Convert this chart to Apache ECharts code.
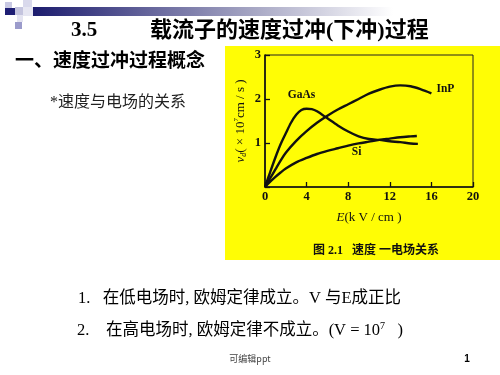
<!DOCTYPE html>
<html><head><meta charset="utf-8">
<script src="https://cdn.jsdelivr.net/npm/echarts@6/dist/echarts.min.js"></script>
<style>html,body{margin:0;padding:0;background:#fff;}#c{width:500px;height:375px;}</style>
</head><body><div id="c"></div>
<script>
// ---- data ----
const xTicks = [0, 4, 8, 12, 16, 20];
const yTicks = [0, 1, 2, 3];
const gaasE = [0, 0.5, 1, 1.5, 2, 2.5, 3, 3.5, 4, 4.5, 5, 6, 7, 8, 9, 10, 11, 12, 13, 14, 14.7];
const gaasV = [0, 0.34, 0.67, 0.97, 1.22, 1.46, 1.64, 1.75, 1.78, 1.77, 1.72, 1.56, 1.40, 1.26, 1.15, 1.09, 1.07, 1.04, 1.02, 0.99, 0.98];
const inpE = [0, 0.5, 1, 1.5, 2, 3, 4, 5, 6, 7, 8, 9, 10, 11, 12, 13, 14, 15, 16];
const inpV = [0, 0.2, 0.4, 0.6, 0.78, 1.05, 1.27, 1.46, 1.62, 1.76, 1.88, 2.0, 2.12, 2.21, 2.28, 2.31, 2.29, 2.22, 2.13];
const siE = [0, 0.5, 1, 1.5, 2, 3, 4, 5, 6, 7, 8, 9, 10, 11, 12, 13, 14, 14.6];
const siV = [0, 0.12, 0.23, 0.33, 0.42, 0.56, 0.66, 0.75, 0.82, 0.88, 0.94, 0.99, 1.03, 1.07, 1.10, 1.13, 1.15, 1.16];
const seriesNames = ['GaAs', 'InP', 'Si'];

const serifF = '"Liberation Serif","Times New Roman","Noto Sans CJK SC",serif';
const cjkF = '"Liberation Serif","Noto Sans CJK SC",serif';

function build(E, V, labelIdx, labelCfg) {
  return E.map((e, i) => {
    const item = { value: [e, V[i]] };
    if (i === labelIdx) item.label = Object.assign({ show: true }, labelCfg);
    return item;
  });
}
const lblBase = { fontFamily: serifF, fontSize: 11.5, fontWeight: 'bold', color: '#111' };

const chart = echarts.init(document.getElementById('c'), null, { renderer: 'canvas' });
const lineStyle = { color: '#111', width: 2.4 };
function mkSeries(name, E, V, labelIdx, labelCfg) {
  return {
    name, type: 'line', smooth: 0.3, symbol: 'circle', symbolSize: 0, showSymbol: true, showAllSymbol: true,
    itemStyle: { color: '#111' }, lineStyle, z: 5, silent: true,
    data: build(E, V, labelIdx, Object.assign({ formatter: name }, lblBase, labelCfg))
  };
}

chart.setOption({
  animation: false,
  backgroundColor: '#ffffff',
  grid: { left: 265, top: 55, width: 208, height: 132, show: true, borderColor: '#222', borderWidth: 1, backgroundColor: 'transparent', outerBoundsMode: 'none', containLabel: false },
  xAxis: {
    type: 'value', min: xTicks[0], max: xTicks[xTicks.length - 1], interval: 4,
    axisLine: { show: true, onZero: false, lineStyle: { color: '#111', width: 1.6 } },
    axisTick: { show: true, inside: true, length: 5, lineStyle: { color: '#111', width: 1.3 } },
    axisLabel: { margin: 4, fontFamily: serifF, fontSize: 12.5, fontWeight: 'bold', color: '#111' },
    splitLine: { show: false },
    name: '{i|E}{n|(k V / cm )}', nameLocation: 'middle', nameGap: 24,
    nameTextStyle: { rich: { i: { fontFamily: serifF, fontStyle: 'italic', fontSize: 13, color: '#111' }, n: { fontFamily: serifF, fontSize: 13, color: '#111' } } }
  },
  yAxis: {
    type: 'value', min: yTicks[0], max: yTicks[yTicks.length - 1], interval: 1,
    axisLine: { show: true, onZero: false, lineStyle: { color: '#111', width: 1.6 } },
    axisTick: { show: true, inside: true, length: 5, lineStyle: { color: '#111', width: 1.3 } },
    axisLabel: { margin: 4, fontFamily: serifF, fontSize: 12.5, fontWeight: 'bold', color: '#111', formatter: v => v === 0 ? '' : String(v) },
    splitLine: { show: false },
    name: '{i|v}{s|d}{n|( × 10}{p|7}{n|cm / s )}', nameLocation: 'middle', nameGap: 17, nameRotate: 90,
    nameTextStyle: { rich: {
      i: { fontFamily: serifF, fontStyle: 'italic', fontSize: 13, color: '#111', lineHeight: 15 },
      s: { fontFamily: serifF, fontStyle: 'italic', fontSize: 8, color: '#111', verticalAlign: 'bottom', lineHeight: 15 },
      n: { fontFamily: serifF, fontSize: 13, color: '#111', lineHeight: 15 },
      p: { fontFamily: serifF, fontSize: 7, color: '#111', verticalAlign: 'top', lineHeight: 15 }
    } }
  },
  series: [
    mkSeries(seriesNames[0], gaasE, gaasV, gaasE.indexOf(4), { position: 'top', distance: 8, offset: [-5, 0] }),
    mkSeries(seriesNames[1], inpE, inpV, inpE.length - 1, { position: 'right', distance: 5, offset: [0, -4] }),
    mkSeries(seriesNames[2], siE, siV, siE.indexOf(9), { position: 'bottom', distance: 3, offset: [-2, 0] })
  ],
  graphic: [
    // yellow figure background
    { type: 'rect', z: -10, silent: true, shape: { x: 225, y: 46, width: 275, height: 214 }, style: { fill: '#fffd05' } },
    // header decoration
    { type: 'rect', z: -5, silent: true, shape: { x: 33, y: 7, width: 360, height: 9 },
      style: { fill: new echarts.graphic.LinearGradient(0, 0, 1, 0, [{ offset: 0, color: '#1c1c6e' }, { offset: 0.6, color: '#a4a4c2' }, { offset: 1, color: '#ffffff' }]) } },
    { type: 'rect', silent: true, shape: { x: 5, y: 2, width: 7, height: 6 }, style: { fill: '#c9c9e3' } },
    { type: 'rect', silent: true, shape: { x: 5, y: 8, width: 10, height: 7 }, style: { fill: '#1e1e74' } },
    { type: 'rect', silent: true, shape: { x: 15, y: 7, width: 8, height: 8 }, style: { fill: '#c4c4de' } },
    { type: 'rect', silent: true, shape: { x: 23, y: 0, width: 9, height: 7 }, style: { fill: '#d9d9ec' } },
    { type: 'rect', silent: true, shape: { x: 23, y: 7, width: 10, height: 9 }, style: { fill: '#e6e6f2' } },
    { type: 'rect', silent: true, shape: { x: 15, y: 22, width: 7, height: 7 }, style: { fill: '#9b9bcb' } },
    { type: 'rect', silent: true, shape: { x: 17, y: 15, width: 6, height: 7 }, style: { fill: '#e4e4f1' } },
    // slide title
    { type: 'text', silent: true, x: 71, y: 31, style: { text: '3.5', font: 'bold 21px ' + serifF, fill: '#000', verticalAlign: 'middle' } },
    { type: 'text', silent: true, x: 150, y: 31, style: { text: '载流子的速度过冲(下冲)过程', font: 'bold 22px ' + cjkF, fill: '#000', verticalAlign: 'middle' } },
    { type: 'text', silent: true, x: 15, y: 62, style: { text: '一、速度过冲过程概念', font: 'bold 19px ' + cjkF, fill: '#000', verticalAlign: 'middle' } },
    { type: 'text', silent: true, x: 50, y: 103, style: { text: '*速度与电场的关系', font: '16px ' + cjkF, fill: '#222', verticalAlign: 'middle' } },
    // figure caption
    { type: 'text', silent: true, x: 313, y: 251, style: { text: '图 2.1   速度 一电场关系', font: 'bold 12px ' + cjkF, fill: '#111', verticalAlign: 'middle' } },
    // bullet lines
    { type: 'text', silent: true, x: 78, y: 299, style: { text: '1.   在低电场时, 欧姆定律成立。V 与E成正比', font: '16.5px ' + cjkF, fill: '#000', verticalAlign: 'middle' } },
    { type: 'text', silent: true, x: 77, y: 331, style: { text: '2.    在高电场时, 欧姆定律不成立。(V = 10{p|7}   )', font: '16.5px ' + cjkF, fill: '#000', verticalAlign: 'middle',
      rich: { p: { font: '10px ' + serifF, fill: '#000', verticalAlign: 'top', lineHeight: 20 } } } },
    // footer
    { type: 'text', silent: true, x: 250, y: 359, style: { text: '可编辑ppt', font: '9px "Noto Sans CJK SC",sans-serif', fill: '#444', align: 'center', verticalAlign: 'middle' } },
    { type: 'text', silent: true, x: 467, y: 359, style: { text: '1', font: 'bold 10px "Liberation Sans",sans-serif', fill: '#000', align: 'center', verticalAlign: 'middle' } }
  ]
});
</script></body></html>
